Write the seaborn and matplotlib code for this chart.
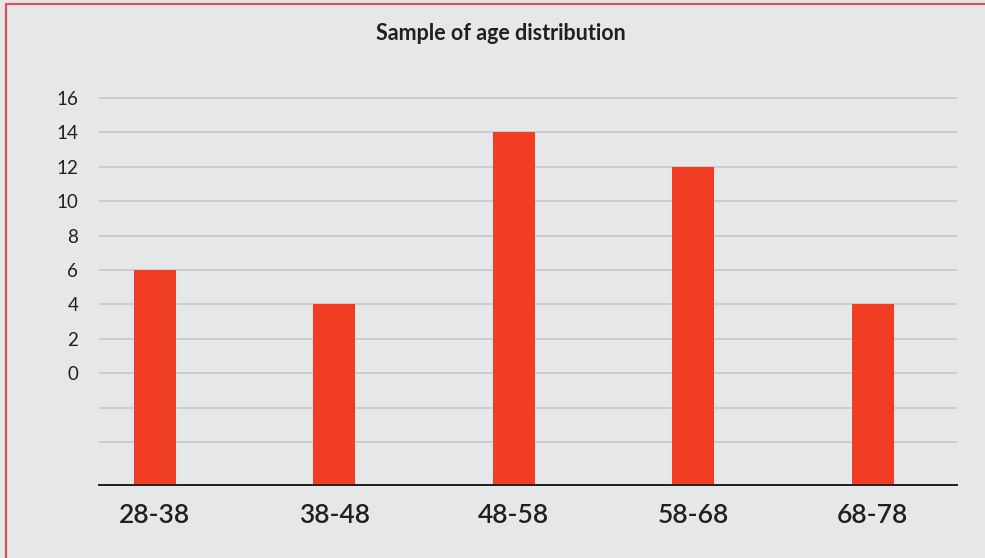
import matplotlib
matplotlib.use("Agg")
import matplotlib.pyplot as plt
import pandas as pd
import seaborn as sns
from matplotlib.lines import Line2D

# data
age_groups = ["28-38", "38-48", "48-58", "58-68", "68-78"]
counts = [6, 4, 14, 12, 4]
y_ticks = [-4, -2, 0, 2, 4, 6, 8, 10, 12, 14, 16]
y_labels = ["", "", "0", "2", "4", "6", "8", "10", "12", "14", "16"]
title = "Sample of age distribution"

BG = "#e6e7e9"
BAR = "#f03d24"
GRID = "#c6c7c9"
TEXT = "#231f20"
BORDER = "#d9525b"
BASELINE = -6.5  # bars start below the zero line in the original

sns.set_theme(style="white")
plt.rcParams["font.family"] = ["Lato", "DejaVu Sans"]

df = pd.DataFrame({"age": age_groups, "count": counts})
df["height"] = df["count"] - BASELINE

fig = plt.figure(figsize=(9.85, 5.58), dpi=100, facecolor=BG)
ax = fig.add_axes([99 / 985, 1 - 485 / 558, 858 / 985, (485 - 97) / 558])
ax.set_facecolor(BG)

sns.barplot(data=df, x="age", y="height", color=BAR, saturation=1,
            width=0.235, bottom=BASELINE, linewidth=0, ax=ax, zorder=3)

ax.set_xlim(-0.31, 4.47)
ax.set_ylim(BASELINE, 16.05)
ax.set_yticks(y_ticks)
ax.set_yticklabels(y_labels)
ax.yaxis.grid(True, color=GRID, linewidth=1.2)
ax.set_axisbelow(True)

for side in ["top", "right", "left"]:
    ax.spines[side].set_visible(False)
ax.spines["bottom"].set_color(TEXT)
ax.spines["bottom"].set_linewidth(1.4)
ax.spines["bottom"].set_zorder(4)

ax.tick_params(axis="y", length=0, pad=15, labelsize=13.5, labelcolor=TEXT)
ax.tick_params(axis="x", length=0, pad=13, labelsize=19, labelcolor=TEXT)
for lab in ax.get_xticklabels():
    lab.set_fontweight("semibold")
ax.set_xlabel("")
ax.set_ylabel("")

fig.text(0.509, 1 - 34 / 558, title, ha="center", va="center",
         fontsize=15.5, fontweight="bold", color=TEXT)

# thin red frame on the left and top edges
fig.add_artist(Line2D([6 / 985, 6 / 985], [0, 1 - 4 / 558], color=BORDER,
                      linewidth=1.6, transform=fig.transFigure))
fig.add_artist(Line2D([6 / 985, 1], [1 - 4 / 558, 1 - 4 / 558], color=BORDER,
                      linewidth=1.6, transform=fig.transFigure))

fig.savefig("out.png", dpi=100, facecolor=BG)
